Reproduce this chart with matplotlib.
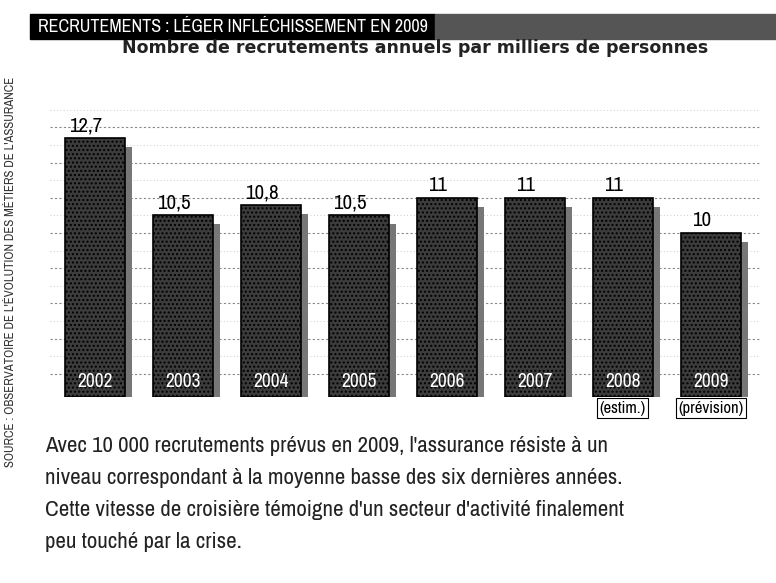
import numpy as np
import matplotlib.pyplot as plt
from matplotlib import font_manager
from matplotlib.patches import Rectangle

# Data
years = ["2002", "2003", "2004", "2005", "2006", "2007", "2008", "2009"]
recrutements = [12.7, 10.5, 10.8, 10.5, 11, 11, 11, 10]
value_labels = ["12,7", "10,5", "10,8", "10,5", "11", "11", "11", "10"]
notes = {6: "(estim.)", 7: "(prévision)"}

title = "RECRUTEMENTS : LÉGER INFLÉCHISSEMENT EN 2009"
subtitle = "Nombre de recrutements annuels par milliers de personnes"
source = "SOURCE : OBSERVATOIRE DE L'ÉVOLUTION DES MÉTIERS DE L'ASSURANCE"
paragraph = [
    "Avec 10 000 recrutements prévus en 2009, l'assurance résiste à un",
    "niveau correspondant à la moyenne basse des six dernières années.",
    "Cette vitesse de croisière témoigne d'un secteur d'activité finalement",
    "peu touché par la crise.",
]

# look for a narrow font among the installed ones
narrow_name = None
for f in font_manager.fontManager.ttflist:
    n = f.name
    if "Narrow" in n or "Condensed" in n:
        narrow_name = n
        break
stretch = "normal"
if narrow_name is None:
    for f in font_manager.fontManager.ttflist:
        if f.stretch in ("condensed", "semi-condensed", 75, 87.5):
            narrow_name = f.name
            stretch = "condensed"
            break
if narrow_name is None:
    narrow_name = "DejaVu Sans"
narrow = [narrow_name, "DejaVu Sans"]
condensed = narrow_name != "DejaVu Sans" or stretch == "condensed"
sc = 1.0 if condensed else 0.85

W, H = 776, 583
fig = plt.figure(figsize=(W / 100, H / 100), dpi=100)
fig.patch.set_facecolor("white")

# title bar
fig.patches.append(Rectangle((30 / W, 1 - 39 / H), 405 / W, 25 / H,
                             transform=fig.transFigure, color="black", zorder=0))
fig.patches.append(Rectangle((435 / W, 1 - 39 / H), 341 / W, 25 / H,
                             transform=fig.transFigure, color="#555555", zorder=0))
fig.text(38 / W, 1 - 26.5 / H, title, color="white", fontsize=13 * sc, fontweight="bold",
         family=narrow, stretch=stretch, va="center", ha="left")

fig.text(415 / W, 1 - 48 / H, subtitle, fontsize=12.5, fontweight="bold",
         color="#222222", ha="center", va="center")

fig.text(11 / W, 1 - 272 / H, source, rotation=90, fontsize=9.2, family=narrow,
         stretch=stretch, color="#333333", ha="center", va="center")

# chart area
base = 5.34
ax = fig.add_axes([50 / W, (H - 397) / H, 710 / W, 297 / H])
x = np.arange(len(years))
ax.set_xlim(-0.51, 7.56)
ax.set_ylim(base, 13.78)

for yv in np.arange(6, 14, 1.0):
    ax.axhline(yv, color="#888888", linestyle=(0, (2, 2)), linewidth=0.8, zorder=0)
    ax.axhline(yv + 0.5, color="#bbbbbb", linestyle=(0, (1, 3)), linewidth=0.6, zorder=0)

# shadow then bars
ax.bar(x + 0.08, np.array(recrutements) - base, bottom=base - 0.25, width=0.68,
       color="#777777", zorder=1)
ax.bar(x, np.array(recrutements) - base, bottom=base, width=0.68,
       color="#3c3c3c", edgecolor="black", linewidth=1.2, hatch="....", zorder=2)

for xi, v, lab in zip(x, recrutements, value_labels):
    ax.text(xi - 0.1, v + 0.08, lab, ha="center", va="bottom", fontsize=15 * sc,
            family=narrow, stretch=stretch, color="black", zorder=3)

for xi, yr in zip(x, years):
    ax.text(xi, base + 0.45, yr, ha="center", va="center", fontsize=14 * sc,
            family=narrow, stretch=stretch, fontweight="bold", color="white", zorder=3)

for i, note in notes.items():
    ax.text(x[i], base - 0.32, note, ha="center", va="center", fontsize=12 * sc,
            family=narrow, stretch=stretch, color="black", clip_on=False, zorder=3,
            bbox=dict(boxstyle="square,pad=0.15", fc="white", ec="black", lw=0.8))

ax.set_xticks([])
ax.set_yticks([])
for s in ax.spines.values():
    s.set_visible(False)
ax.patch.set_alpha(0)

# paragraph below the chart
for k, line in enumerate(paragraph):
    fig.text(45 / W, 1 - (446 + 32 * k) / H, line, fontsize=16.5 * sc, family=narrow,
             stretch=stretch, color="#222222", ha="left", va="center")

fig.savefig("out.png", dpi=100)
